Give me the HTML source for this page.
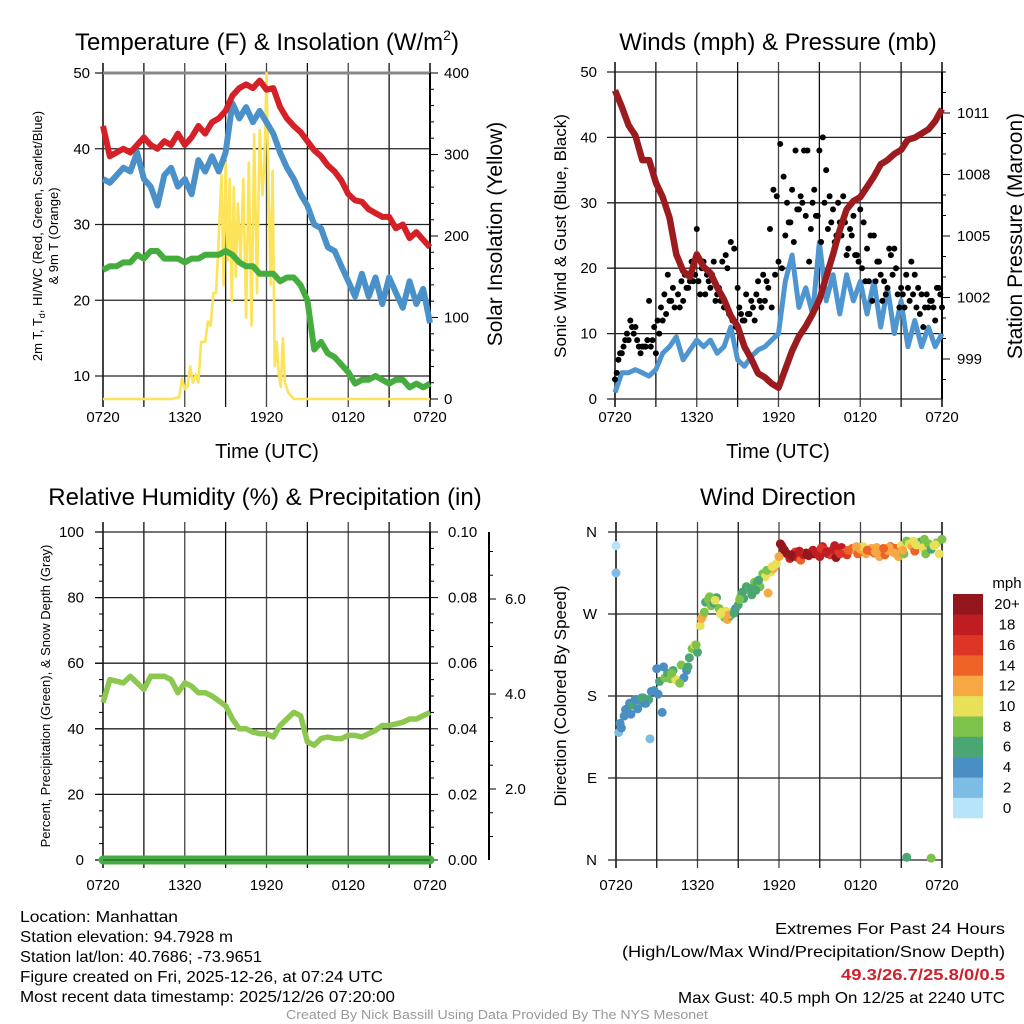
<!DOCTYPE html>
<html><head><meta charset="utf-8"><style>
html,body{margin:0;padding:0;background:#fff;width:1024px;height:1024px;overflow:hidden}
svg{display:block;font-family:"Liberation Sans",sans-serif}
</style></head><body>
<svg id="root" width="1024" height="1024" viewBox="0 0 1024 1024"></svg>
<script>
// ---------- DATA ----------
const hoursHalf = [0,0.5,1,1.5,2,2.5,3,3.5,4,4.5,5,5.5,6,6.5,7,7.5,8,8.5,9,9.5,10,10.5,11,11.5,12,12.5,13,13.5,14,14.5,15,15.5,16,16.5,17,17.5,18,18.5,19,19.5,20,20.5,21,21.5,22,22.5,23,23.5,24];
const tempRed = [43,39,39.5,40,39.5,40.5,41.5,40.5,40,41,40.5,42,40.5,41.5,43,42,43.5,44,45,47,48,48.5,48,49,47.8,48,45.5,44,43,42.2,41,39.8,39,37.8,37,35.8,34,33.2,33,32,31.5,31,31,29.5,30,28.2,29,28,27];
const tempBlue = [36,35.5,36.5,37.5,37,39.5,36,35,32.5,36.5,37.5,35,36,34,38.5,37,39,37,39.5,46,44,45.5,43.5,45,43.5,42,39.5,37.5,36,34,32.5,30,29.5,27,26.5,24.5,22.5,20.5,23.5,20.5,23,19.5,23,21,19,22.5,19.5,21.5,17];
const dewGreen = [24,24.5,24.5,25,25,26,25.5,26.5,26.5,25.5,25.5,25.5,25,25.5,25.5,26,26,26,26.5,26,25,24.5,24.5,23.5,23.5,23.5,22.5,23,23,22,20,13.5,14.5,13,12.5,11.5,10.5,9,9.5,9.5,10,9.5,9,9.5,9.5,8.5,9,8.5,9];
const solarHours = [0,5.0,5.6,5.8,6.0,6.2,6.4,6.6,6.8,7.0,7.2,7.5,7.7,7.9,8.1,8.3,8.5,8.7,8.85,9.0,9.15,9.3,9.45,9.6,9.75,9.9,10.1,10.3,10.5,10.7,10.9,11.1,11.3,11.5,11.7,11.85,12.0,12.15,12.3,12.45,12.6,12.75,12.9,13.05,13.2,13.35,13.6,14.0,24];
const solarValues = [0,0,2,25,12,15,40,20,30,20,70,70,95,90,130,130,200,275,140,290,170,270,120,260,150,240,170,270,100,290,90,325,130,330,250,290,400,260,140,280,40,70,30,15,75,20,8,0,0];
const pressure = [1012.1,1011.3,1010.4,1009.9,1008.7,1008.7,1007.6,1006.9,1005.9,1004.1,1003.3,1003,1004.1,1003.5,1003.2,1002.5,1001.9,1001.1,1000.6,999.6,999,998.3,998.1,997.8,997.6,998.5,999.4,1000.1,1000.6,1001.2,1001.9,1003,1004.1,1005.3,1006.3,1006.7,1006.9,1007.4,1007.9,1008.5,1008.7,1009,1009.2,1009.7,1009.8,1010,1010.2,1010.6,1011.2];
const sonicWind = [1,4,4,4.5,4,3.5,4.5,7,8,9.5,6,7.5,9,8,9,7,8,11,6,5,6.5,7.5,8,9,10,18,22,14,17,13,24,15,19,13,19,15,18,13,18,11,17,10,15,8,12,8,11,8,10];
const gustA = [3,6,7,9,9,11,11,8,8,8,15,9,7,10,12,13,15,17,22,14,15,17,18,18,26,16,21,19,17,21,16,15,14,20,24,23,17,13,12,13,15,12,18,14,15,17,14,19,21,20,25,27,32,38,29,30,28,21,30,28,38,40,35,31,29,25,27,31,22,26,28,22,29,27,23,25,25,21,19,18,17,22,23,16,17,14,17,21,19,17,16,14,14,15,12,17,14];
const gustB = [4,7,8,10,12,10,9,7,8,9,8,11,12,14,16,19,15,14,16,18,19,17,21,19,18,20,16,18,19,15,17,21,22,13,12,11,14,12,16,13,14,16,15,19,18,26,32,31,39,34,30,27,24,29,31,38,38,26,32,28,24,30,26,27,24,30,25,27,23,25,22,21,20,18,18,15,18,21,15,16,23,19,20,14,16,19,15,16,14,13,11,16,15,14,17,16];
const rhValues = [48,55,54.5,54,56,54,52,56,56,56,55,51,54,53,51,51,50,48.5,47,43,40,40,39,38.5,38.5,37.5,41,43,45,44,36,35,37,37.5,37,37,38,38,37.5,38.5,39.5,41,41,41.5,42,43,43,44,45];
const precipValues = [0,0,0,0,0,0,0,0,0,0,0,0,0,0,0,0,0,0,0,0,0,0,0,0,0,0,0,0,0,0,0,0,0,0,0,0,0,0,0,0,0,0,0,0,0,0,0,0,0];
const dirValues = [315,140,145,158,166,172,170,176,166,175,178,172,176,185,186,210,196,162,200,205,199,208,198,196,214,200,208,222,232,236,228,257,268,283,286,279,282,288,276,272,266,264,268,272,276,280,290,287,300,296,291,305,304,300,314,311,293,316,320,325,333,345,340,336,331,333,338,332,329,335,337,334,338,336,337,333,344,340,336,335,341,332,338,343,337,335,340,342,340,336,341,344,336,340,342,337,343,333,339,335,340,344,338,342,333,345,336,350,347,344,339,348,349,343,336,347,341,345,348,336,352];
const dirSpeeds = [3,2,4,4,4,4,6,4,4,6,4,4,6,4,4,4,6,4,8,6,8,6,10,10,8,4,4,6,8,10,6,10,12,6,8,8,6,6,8,10,8,12,6,8,4,6,8,6,6,8,6,8,6,8,8,10,12,10,12,10,12,18,20,20,18,20,16,18,14,18,20,18,16,20,18,18,18,16,18,16,18,20,16,18,14,16,14,14,12,14,12,10,12,14,12,14,12,12,12,14,12,14,12,14,12,10,8,8,10,12,14,8,6,10,8,8,6,10,8,10,8];
const extraDirHours = [0,21.4,23.2,12.1,12.3,14.5,16.1,20.1,8.1,8.3,1.5,2.1,3.1,6.3,6.5,9.3,10.5,18.5,22.1,0.3,0.7,1.1,1.9,2.5,3.5,4.1,4.7,5.3,5.9,6.9,7.3,7.7,8.7,9.1,9.9,10.3,11.1,11.5,12.9,13.5,14.1,15.1,15.5,16.5,17.1,17.7,19.1,19.7,20.5,21.1,21.9,22.7,23.5];
const extraDirs = [345,3,2,347,342,340,345,343,273,269,176,172,182,265,272,294,307,340,346,150,165,160,178,133,212,205,194,212,236,289,285,270,271,286,298,296,318,322,335,339,335,342,338,336,340,344,338,342,337,340,350,352,346];
const extraSpeeds = [1,6,8,20,20,18,18,12,10,12,4,4,4,12,8,6,6,14,10,4,4,4,6,2,4,8,8,6,8,8,10,10,6,8,6,6,8,10,20,18,20,16,18,16,14,12,12,14,12,12,10,8,10];
const speedBins = ["0","2","4","6","8","10","12","14","16","18","20+"];
const speedColors = ["#b7e4f8","#7dbde5","#4a8fc4","#4aa774","#7dc24a","#e7e058","#f6a844","#ef6228","#dd3526","#c01d23","#93161c"];
const timeTicks = ["0720","1320","1920","0120","0720"];
const tempTicks = [10,20,30,40,50];
const solarTicks = [0,100,200,300,400];
const windTicks = [0,10,20,30,40,50];
const pressTicks = [999,1002,1005,1008,1011];
const rhTicks = [0,20,40,60,80,100];
const precipTicks = ["0.00","0.02","0.04","0.06","0.08","0.10"];
const snowTicks = ["2.0","4.0","6.0"];
const dirTicks = ["N","E","S","W","N"];

// ---------- HELPERS ----------
const NS="http://www.w3.org/2000/svg";
const root=document.getElementById('root');
function mk(tag,attrs,parent){const e=document.createElementNS(NS,tag);for(const k in attrs)e.setAttribute(k,attrs[k]);(parent||root).appendChild(e);return e;}
function txt(s,x,y,size,anchor,parent,extra){const t=mk('text',Object.assign({x:x,y:y,'font-size':size,'text-anchor':anchor||'middle',fill:'#000'},extra||{}),parent);t.textContent=s;return t;}
function pathFrom(xs,ys,xf,yf){let d='';for(let i=0;i<xs.length&&i<ys.length;i++){d+=(i?'L':'M')+xf(xs[i]).toFixed(1)+' '+yf(ys[i]).toFixed(1);}return d;}

function frame(g,L,R,T,B,hLinesY){
  for(let k=0;k<=8;k++){const x=L+(R-L)*k/8;
    const ln=mk('line',{x1:x,y1:T-10,x2:x,y2:B+8,stroke:(k%2?'#111':'#444'),'stroke-width':k===0||k===8?2:1.3},g);
    }
  hLinesY.forEach(y=>{const ln=mk('line',{x1:L-8,y1:y,x2:R,y2:y,stroke:'#222','stroke-width':1.3},g);
    });
}
function timeLabels(g,L,R,y){timeTicks.forEach((s,i)=>{const t=txt(s,L+(R-L)*i/4,y,15,'middle',g);
  });}

// ---------- PANEL 1 ----------
(function(){
 const g=mk('g',{});
 const L=103,R=430,T=73,B=399;
 const x=h=>L+(R-L)*h/24, y=v=>376-(v-10)*(303/40), ys=v=>B-(v)*(B-T)/400;
 frame(g,L,R,T,B,tempTicks.map(y));
 mk('line',{x1:L,y1:T,x2:R,y2:T,stroke:'#888','stroke-width':3},g);
 tempTicks.forEach(v=>{const t=txt(v,90,y(v)+5,15,'end',g);});
 for(let v=0;v<=400;v+=20){mk('line',{x1:R,y1:ys(v),x2:R+(v%100?4:8),y2:ys(v),stroke:'#000','stroke-width':1},g);}
 mk('line',{x1:R,y1:T,x2:R,y2:B,stroke:'#000','stroke-width':2},g);
 solarTicks.forEach(v=>{const t=txt(v,444,ys(v)+5,15,'start',g);});
 const p1=mk('path',{d:pathFrom(solarHours,solarValues,x,ys),fill:'none',stroke:'#fbe35a','stroke-width':2.6,'stroke-linejoin':'round'},g);
 
 const p2=mk('path',{d:pathFrom(hoursHalf,dewGreen,x,y),fill:'none',stroke:'#44ad3e','stroke-width':6,'stroke-linejoin':'round'},g);
 
 const p3=mk('path',{d:pathFrom(hoursHalf,tempBlue,x,y),fill:'none',stroke:'#4a90c9','stroke-width':6,'stroke-linejoin':'round'},g);
 
 const p4=mk('path',{d:pathFrom(hoursHalf,tempRed,x,y),fill:'none',stroke:'#d62027','stroke-width':6,'stroke-linejoin':'round'},g);
 
 timeLabels(g,L,R,422);
 let t=txt('Time (UTC)',267,458,20,'middle',g);
 t=mk('text',{x:267,y:50,'font-size':24,'text-anchor':'middle'},g);
 t.innerHTML='Temperature (F) &amp; Insolation (W/m<tspan font-size="14" dy="-10">2</tspan><tspan dy="10">)</tspan>';
 
 t=mk('text',{x:0,y:0,'font-size':13,'text-anchor':'middle',transform:'translate(42,236) rotate(-90)'},g);
 t.innerHTML='2m T, T<tspan font-size="9" dy="3">d</tspan><tspan dy="-3">, HI/WC (Red, Green, Scarlet/Blue)</tspan>';
 
 t=txt('& 9m T (Orange)',0,0,13,'middle',g,{transform:'translate(58,236) rotate(-90)'});
 t=txt('Solar Insolation (Yellow)',0,0,21,'middle',g,{transform:'translate(502,234) rotate(-90)'});
})();

// ---------- PANEL 2 ----------
(function(){
 const g=mk('g',{});
 const L=615,R=942,T=72,B=399;
 const x=h=>L+(R-L)*h/24, y=v=>B-v*(B-T)/50, yp=p=>113+(1011-p)*20.5;
 frame(g,L,R,T,B,windTicks.map(y));
 windTicks.forEach(v=>{const t=txt(v,597,y(v)+5,15,'end',g);});
 for(let p=998;p<=1013;p++){mk('line',{x1:R,y1:yp(p),x2:R+((p-999)%3?4:8),y2:yp(p),stroke:'#000','stroke-width':1},g);}
 mk('line',{x1:R,y1:T,x2:R,y2:B,stroke:'#000','stroke-width':2},g);
 pressTicks.forEach(v=>{const t=txt(v,957,yp(v)+5,15,'start',g);});
 const p1=mk('path',{d:pathFrom(hoursHalf,sonicWind,x,y),fill:'none',stroke:'#4f95d0','stroke-width':5,'stroke-linejoin':'round'},g);
 
 gustA.forEach((v,i)=>{const c=mk('circle',{cx:x(i*0.25),cy:y(v),r:3,fill:'#000'},g);
   });
 gustB.forEach((v,i)=>{const c=mk('circle',{cx:x(0.125+i*0.25),cy:y(v),r:3,fill:'#000'},g);
   });
 const p2=mk('path',{d:pathFrom(hoursHalf,pressure,x,yp),fill:'none',stroke:'#9b1b1e','stroke-width':6.5,'stroke-linejoin':'round'},g);
 
 timeLabels(g,L,R,422);
 let t=txt('Time (UTC)',778,458,20,'middle',g);
 t=txt('Winds (mph) & Pressure (mb)',778,50,24,'middle',g);
 t=txt('Sonic Wind & Gust (Blue, Black)',0,0,17,'middle',g,{transform:'translate(566,236) rotate(-90)'});
 t=txt('Station Pressure (Maroon)',0,0,21,'middle',g,{transform:'translate(1022,236) rotate(-90)'});
})();

// ---------- PANEL 3 ----------
(function(){
 const g=mk('g',{});
 const L=103,R=430,T=532,B=860;
 const x=h=>L+(R-L)*h/24, y=v=>B-v*(B-T)/100, yq=v=>B-v*(B-T)/0.1;
 frame(g,L,R,T,B,rhTicks.map(y));
 for(let v=0;v<=100;v+=5){mk('line',{x1:v%20?99:95,y1:y(v),x2:L,y2:y(v),stroke:'#000','stroke-width':1},g);}
 rhTicks.forEach(v=>{const t=txt(v,84,y(v)+5,15,'end',g);});
 for(let v=0;v<=100;v+=5){mk('line',{x1:R,y1:y(v),x2:R+(v%20?4:8),y2:y(v),stroke:'#000','stroke-width':1},g);}
 mk('line',{x1:R,y1:T,x2:R,y2:B,stroke:'#000','stroke-width':2},g);
 precipTicks.forEach((s,i)=>{const t=txt(s,448,yq(i*0.02)+5,15,'start',g);});
 const ax=mk('line',{x1:489,y1:532,x2:489,y2:860,stroke:'#000','stroke-width':2},g);
 const ysn=v=>884-v*47.5;
 for(let v=1;v<=7;v+=1){const yy=ysn(v);if(yy<534||yy>858)continue;mk('line',{x1:489,y1:yy,x2:489+(v%2?4:7),y2:yy,stroke:'#000','stroke-width':1},g);}
 for(let v=0.5;v<=7.5;v+=1){const yy=ysn(v);if(yy<534||yy>858)continue;mk('line',{x1:489,y1:yy,x2:493,y2:yy,stroke:'#000','stroke-width':1},g);}
 snowTicks.forEach(s=>{const t=txt(s,505,ysn(parseFloat(s))+5,15,'start',g);});
 const p1=mk('path',{d:pathFrom(hoursHalf,rhValues,x,y),fill:'none',stroke:'#8cc84f','stroke-width':5.5,'stroke-linejoin':'round'},g);
 
 const p2=mk('path',{d:pathFrom(hoursHalf,precipValues,x,yq),fill:'none',stroke:'#45ad45','stroke-width':9,'stroke-linecap':'round'},g);
 
 mk('line',{x1:L,y1:B,x2:R,y2:B,stroke:'#2a6e2a','stroke-width':1.5},g);
 timeLabels(g,L,R,890);
 let t=txt('Relative Humidity (%) & Precipitation (in)',265,505,24,'middle',g);
 t=txt('Percent, Precipitation (Green), & Snow Depth (Gray)',0,0,13,'middle',g,{transform:'translate(50,696) rotate(-90)'});
})();

// ---------- PANEL 4 ----------
(function(){
 const g=mk('g',{});
 const L=616,R=942,T=532,B=860;
 const x=h=>L+(R-L)*h/24, y=d=>B-d*(B-T)/360;
 frame(g,L,R,T,B,[0,90,180,270,360].map(y));
 dirTicks.forEach((s,i)=>{const t=txt(s,597,y(i*90)+5,15,'end',g);});
 const col=s=>speedColors[Math.min(10,Math.max(0,Math.floor(s/2)))];
 dirValues.forEach((d,i)=>{const c=mk('circle',{cx:x(i*0.2),cy:y(d),r:4.5,fill:col(dirSpeeds[i])},g);
   });
 extraDirs.forEach((d,i)=>{const c=mk('circle',{cx:x(extraDirHours[i]),cy:y(d),r:4.5,fill:col(extraSpeeds[i])},g);
   });
 timeLabels(g,L,R,890);
 let t=txt('Wind Direction',778,505,24,'middle',g);
 t=txt('Direction (Colored By Speed)',0,0,17,'middle',g,{transform:'translate(566,696) rotate(-90)'});
 const cb=mk('g',{},g);
 const bh=(818-594)/11;
 speedColors.forEach((c,i)=>{const r=mk('rect',{x:953,y:818-(i+1)*bh,width:30,height:bh+0.3,fill:c},cb);
   
   const tt=txt(speedBins[i],1007,818-(i+0.5)*bh+5,15,'middle',cb);});
 t=txt('mph',1007,588,15,'middle',cb);
})();

// ---------- FOOTER ----------
(function(){
 const g=mk('g',{});
 const left=[["Location: Manhattan",158],["Station elevation: 94.7928 m",213],["Station lat/lon: 40.7686; -73.9651",242],["Figure created on Fri, 2025-12-26, at 07:24 UTC",363],["Most recent data timestamp: 2025/12/26 07:20:00",375]];
 left.forEach((a,i)=>{const t=txt(a[0],20,922+i*20,16,'start',g,{textLength:a[1],lengthAdjust:'spacingAndGlyphs'});
   });
 let t=txt('Extremes For Past 24 Hours',1005,934,16,'end',g,{textLength:230,lengthAdjust:'spacingAndGlyphs'});
 t=txt('(High/Low/Max Wind/Precipitation/Snow Depth)',1005,957,16,'end',g,{textLength:383,lengthAdjust:'spacingAndGlyphs'});
 t=txt('49.3/26.7/25.8/0/0.5',1005,980,16,'end',g,{fill:'#d0202a','font-weight':'bold',textLength:164,lengthAdjust:'spacingAndGlyphs'});
 t=txt('Max Gust: 40.5 mph On 12/25 at 2240 UTC',1005,1003,16,'end',g,{textLength:327,lengthAdjust:'spacingAndGlyphs'});
 t=txt('Created By Nick Bassill Using Data Provided By The NYS Mesonet',497,1019,13,'middle',g,{fill:'#999',textLength:422,lengthAdjust:'spacingAndGlyphs'});
})();
</script>
</body></html>
